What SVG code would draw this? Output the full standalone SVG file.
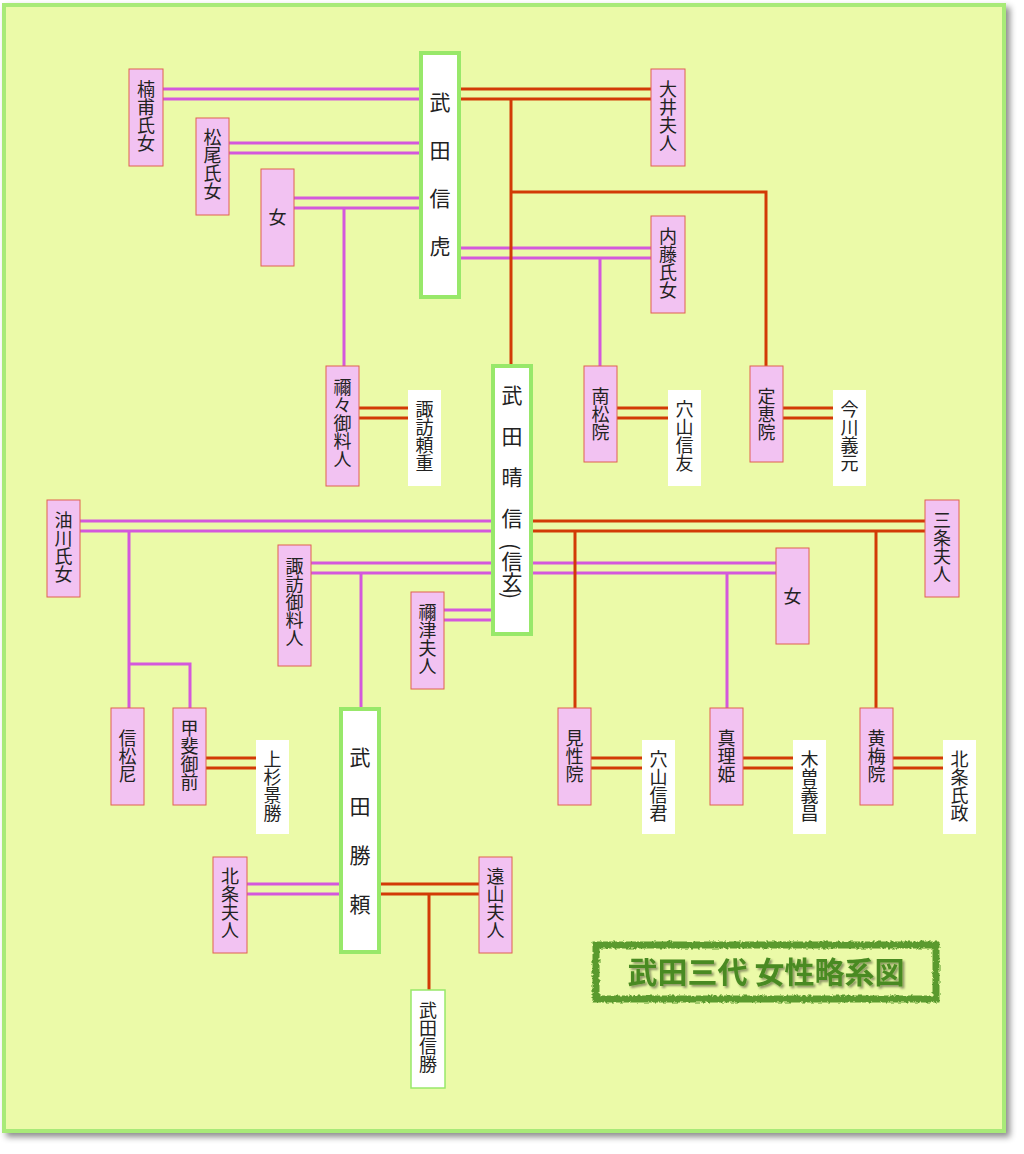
<svg xmlns="http://www.w3.org/2000/svg" width="1024" height="1154" viewBox="0 0 1024 1154">
<defs>
<style>
.bg{fill:#ebfaa8;stroke:#a8ea78;stroke-width:4}
.p{fill:#f2c2f2;stroke:#e06050;stroke-width:1}
.w{fill:#ffffff;stroke:none}
.m{fill:#ffffff;stroke:#98e86a;stroke-width:4}
.t{font-family:"Noto Sans CJK JP","Noto Sans CJK SC",sans-serif;font-size:18px;fill:#222;writing-mode:vertical-rl}
.b{font-size:21px}
.mg{stroke:#d458dc;stroke-width:3;fill:none}
.rd{stroke:#d23a06;stroke-width:3;fill:none}
</style>
<filter id="sh" x="-5%" y="-5%" width="110%" height="110%"><feDropShadow dx="4" dy="4" stdDeviation="3" flood-color="#000" flood-opacity="0.45"/></filter>
<filter id="ts"><feDropShadow dx="2" dy="2" stdDeviation="1" flood-color="#000" flood-opacity="0.4"/></filter>
<filter id="rough" x="-5%" y="-20%" width="110%" height="140%"><feTurbulence type="fractalNoise" baseFrequency="0.35" numOctaves="2" seed="3"/><feDisplacementMap in="SourceGraphic" scale="4"/></filter>
</defs>
<rect width="1024" height="1154" fill="#ffffff"/>
<rect class="bg" x="4" y="5" width="1000" height="1126" filter="url(#sh)"/>
<g id="connectors">
<path class="mg" d="M163 89H421M163 99H421M229 143H421M229 153H421M294 198H421M294 208H421M344 208V366M459 248H651M459 258H651M600 258V366"/>
<path class="rd" d="M459 89H651M459 99H651M511 99V366M511 192H766V366"/>
<path class="rd" d="M359 408H408M359 418H408M617 408H668M617 418H668M783 408H833M783 418H833"/>
<path class="mg" d="M80 521H493M80 531H493M129 531V708M129 664H190V708M311 563H493M311 573H493M361 573V709M444 610H493M444 620H493M531 563H776M531 573H776M727 573V708"/>
<path class="rd" d="M531 521H925M531 531H925M575 531V708M876 531V708"/>
<path class="rd" d="M206 758H256M206 768H256M591 758H642M591 768H642M743 758H793M743 768H793M893 758H943M893 768H943"/>
<path class="mg" d="M247 884H341M247 894H341"/>
<path class="rd" d="M379 884H479M379 894H479M429 894V990"/>
</g>
<g id="nobutora"><rect class="m" x="421" y="53" width="38" height="244"/><text class="t b" x="440" y="92" letter-spacing="27">武田信虎</text></g>
<g id="kusuho"><rect class="p" x="129" y="69" width="34" height="97"/><text class="t" x="146" y="80">楠甫氏女</text></g>
<g id="matsuo"><rect class="p" x="196" y="118" width="33" height="97"/><text class="t" x="212.5" y="128">松尾氏女</text></g>
<g id="onna1"><rect class="p" x="261" y="169" width="33" height="97"/><text class="t" x="277.5" y="208">女</text></g>
<g id="oi"><rect class="p" x="651" y="69" width="34" height="97"/><text class="t" x="668" y="80">大井夫人</text></g>
<g id="naito"><rect class="p" x="651" y="216" width="34" height="97"/><text class="t" x="668" y="227">内藤氏女</text></g>
<g id="nene"><rect class="p" x="326" y="366" width="33" height="120"/><text class="t" x="342.5" y="378">禰々御料人</text></g>
<g id="yorishige"><rect class="w" x="408" y="390" width="33" height="96"/><text class="t" x="424.5" y="400">諏訪頼重</text></g>
<g id="harunobu"><rect class="m" x="493" y="366" width="38" height="268"/><text class="t b" x="512" y="385" letter-spacing="20">武田晴信</text><text class="t b" x="512" y="543">(信玄)</text></g>
<g id="nanshoin"><rect class="p" x="584" y="366" width="33" height="96"/><text class="t" x="600.5" y="387">南松院</text></g>
<g id="nobutomo"><rect class="w" x="668" y="390" width="33" height="96"/><text class="t" x="684.5" y="400">穴山信友</text></g>
<g id="jokeiin"><rect class="p" x="750" y="366" width="33" height="96"/><text class="t" x="766.5" y="387">定恵院</text></g>
<g id="yoshimoto"><rect class="w" x="833" y="390" width="33" height="96"/><text class="t" x="849.5" y="400">今川義元</text></g>
<g id="aburakawa"><rect class="p" x="47" y="500" width="33" height="97"/><text class="t" x="63.5" y="511">油川氏女</text></g>
<g id="suwagoryonin"><rect class="p" x="278" y="545" width="33" height="121"/><text class="t" x="294.5" y="557">諏訪御料人</text></g>
<g id="nezu"><rect class="p" x="411" y="592" width="33" height="97"/><text class="t" x="427.5" y="603">禰津夫人</text></g>
<g id="sanjo"><rect class="p" x="925" y="500" width="34" height="97"/><text class="t" x="942" y="511">三条夫人</text></g>
<g id="onna2"><rect class="p" x="776" y="548" width="33" height="96"/><text class="t" x="792.5" y="587">女</text></g>
<g id="shoshoni"><rect class="p" x="111" y="708" width="33" height="97"/><text class="t" x="127.5" y="729">信松尼</text></g>
<g id="kaigozen"><rect class="p" x="173" y="708" width="33" height="97"/><text class="t" x="189.5" y="719">甲斐御前</text></g>
<g id="kagekatsu"><rect class="w" x="256" y="740" width="33" height="94"/><text class="t" x="272.5" y="750">上杉景勝</text></g>
<g id="katsuyori"><rect class="m" x="341" y="709" width="38" height="243"/><text class="t b" x="360" y="747" letter-spacing="28">武田勝頼</text></g>
<g id="kenshoin"><rect class="p" x="558" y="708" width="33" height="97"/><text class="t" x="574.5" y="729">見性院</text></g>
<g id="nobutada"><rect class="w" x="642" y="740" width="33" height="94"/><text class="t" x="658.5" y="750">穴山信君</text></g>
<g id="marihime"><rect class="p" x="710" y="708" width="33" height="97"/><text class="t" x="726.5" y="729">真理姫</text></g>
<g id="yoshimasa"><rect class="w" x="793" y="740" width="33" height="94"/><text class="t" x="809.5" y="750">木曽義昌</text></g>
<g id="obaiin"><rect class="p" x="860" y="708" width="33" height="97"/><text class="t" x="876.5" y="729">黄梅院</text></g>
<g id="ujimasa"><rect class="w" x="943" y="740" width="33" height="94"/><text class="t" x="959.5" y="750">北条氏政</text></g>
<g id="hojofujin"><rect class="p" x="213" y="857" width="34" height="96"/><text class="t" x="230" y="867">北条夫人</text></g>
<g id="toyama"><rect class="p" x="479" y="857" width="33" height="96"/><text class="t" x="495.5" y="867">遠山夫人</text></g>
<g id="nobukatsu"><rect x="411" y="990" width="34" height="98" fill="#fff" stroke="#98e86a" stroke-width="1.5"/><text class="t" x="428" y="1001">武田信勝</text></g>
<g id="title"><rect x="596" y="945" width="340" height="54" fill="none" stroke="#5a9a2e" stroke-width="7" filter="url(#rough)"/><text x="766" y="983" text-anchor="middle" font-family="'Noto Sans CJK JP',sans-serif" font-weight="bold" font-size="30" fill="#4a8a22" filter="url(#ts)">武田三代 女性略系図</text></g>
</svg>
